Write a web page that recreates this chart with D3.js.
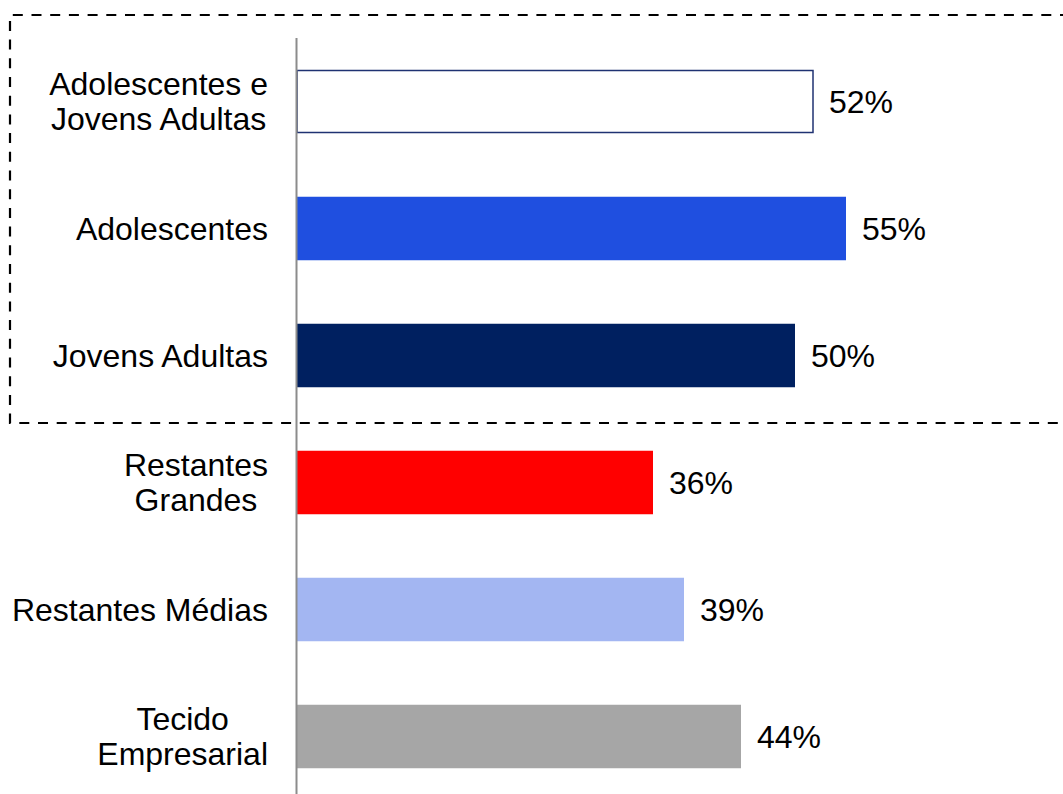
<!DOCTYPE html>
<html>
<head>
<meta charset="utf-8">
<script src="https://cdn.jsdelivr.net/npm/d3@7"></script>
<style>
  body { margin: 0; background: #fff; }
  svg { display: block; font-family: "Liberation Sans", Arial, sans-serif; }
</style>
</head>
<body>
<svg id="chart" width="1063" height="794"></svg>
<script>
const categories = ["Adolescentes e\nJovens Adultas", "Adolescentes", "Jovens Adultas",
  "Restantes\nGrandes", "Restantes Médias", "Tecido\nEmpresarial"];
const values = [51.6, 54.9, 49.8, 35.6, 38.7, 44.4];
const valueLabels = ["52%", "55%", "50%", "36%", "39%", "44%"];
const fills = ["#ffffff", "#1f4fe0", "#002060", "#ff0000", "#a3b6f2", "#a6a6a6"];
const strokes = ["#1f3272", "none", "none", "none", "none", "none"];

const svg = d3.select("#chart");
const axisX = 297;
const fontSize = 32;

const x = d3.scaleLinear().domain([0, 100]).range([axisX, axisX + 1000]);
const y = d3.scaleBand().domain(categories).range([38, 800])
  .paddingInner(0.5).paddingOuter(0.25);

// dashed box around the youth group
const boxTop = Math.round(y(categories[0]) - 55);
const boxBottom = Math.round(y(categories[2]) + y.bandwidth() + 36);
svg.append("path")
  .attr("d", `M1070,${boxTop}H10V${boxBottom}H1070`)
  .attr("fill", "none")
  .attr("stroke", "#000")
  .attr("stroke-width", 2.2)
  .attr("stroke-dasharray", "10,8.7");

const rows = categories.map((c, i) => ({ c, v: values[i], lab: valueLabels[i], fill: fills[i], stroke: strokes[i] }));

svg.selectAll("rect.bar")
  .data(rows)
  .join("rect")
  .attr("class", "bar")
  .attr("x", x(0))
  .attr("y", d => y(d.c) + (d.stroke !== "none" ? 0.75 : 0))
  .attr("width", d => x(d.v) - x(0))
  .attr("height", d => y.bandwidth() - (d.stroke !== "none" ? 1.5 : 0))
  .attr("fill", d => d.fill)
  .attr("stroke", d => d.stroke)
  .attr("stroke-width", 1.5);

// value labels
svg.selectAll("text.val")
  .data(rows)
  .join("text")
  .attr("class", "val")
  .attr("x", d => x(d.v) + 16)
  .attr("y", d => y(d.c) + y.bandwidth() / 2)
  .attr("dy", "0.35em")
  .attr("font-size", fontSize)
  .attr("fill", "#000")
  .text(d => d.lab);

// category labels: right edge at 268, multi-line ones centred on each other
const lineH = 35;
const labelRight = 268;
svg.selectAll("text.cat")
  .data(rows)
  .join("text")
  .attr("class", "cat")
  .attr("font-size", fontSize)
  .attr("fill", "#000")
  .each(function (d) {
    const lines = d.c.split("\n");
    const cy = y(d.c) + y.bandwidth() / 2;
    const t = d3.select(this);
    lines.forEach((ln, k) => {
      t.append("tspan")
        .attr("x", labelRight)
        .attr("y", cy + (k - (lines.length - 1) / 2) * lineH)
        .attr("dy", "0.35em")
        .text(ln);
    });
    if (lines.length > 1) {
      const widths = [];
      t.selectAll("tspan").each(function () { widths.push(this.getComputedTextLength()); });
      t.attr("text-anchor", "middle");
      t.selectAll("tspan").attr("x", labelRight - d3.max(widths) / 2);
    } else {
      t.attr("text-anchor", "end");
    }
  });

// vertical axis line
svg.append("line")
  .attr("x1", axisX - 0.5).attr("x2", axisX - 0.5)
  .attr("y1", y.range()[0]).attr("y2", y.range()[1])
  .attr("stroke", "#8c8c8c")
  .attr("stroke-width", 2);
</script>
</body>
</html>
